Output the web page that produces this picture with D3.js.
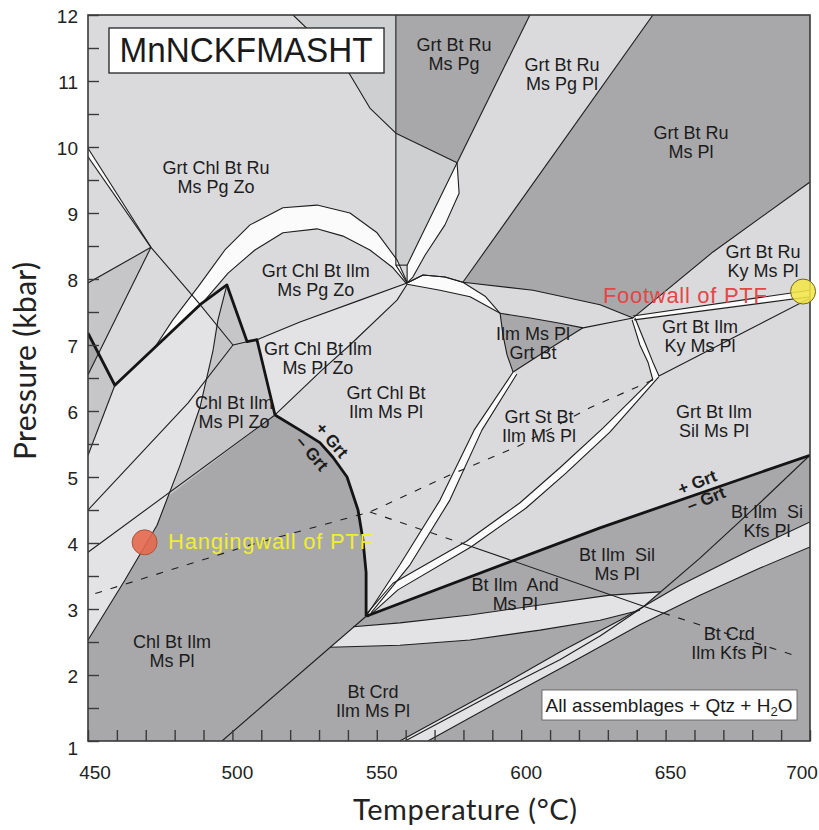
<!DOCTYPE html>
<html>
<head>
<meta charset="utf-8">
<script src="https://cdn.jsdelivr.net/npm/d3@7"></script>
<style>
  body { margin: 0; background: #fff; }
  svg { display: block; }
</style>
</head>
<body>
<div id="chart"></div>
<script>
// ---- axis values ----
const tempTicks = [450, 500, 550, 600, 650, 700];
const presTicks = [1, 2, 3, 4, 5, 6, 7, 8, 9, 10, 11, 12];

// ---- field boundaries, [T (°C), P (kbar)] ----
const rimCurve = [[521.0, 12], [529.3, 11.65], [539.7, 11.17], [547.6, 10.59], [556.6, 10.21]];
const ruVertical = [[556.6, 12], [556.6, 8.21], [560.5, 7.94]];
const ruStub = [[556.6, 8.21], [560.5, 8.21]];
const ruDarkBase = [[556.6, 10.21], [577.8, 9.76]];
const ruDarkEdge = [[603.0, 12], [577.8, 9.76]];
const wedgeLeft = [[577.8, 9.76], [560.5, 8.21], [560.5, 7.94]];
const wedgeRight = [[577.8, 9.76], [578.5, 9.30], [573.6, 8.82], [566.7, 8.36], [562.5, 8.03], [560.5, 7.94]];
const pgPlEdge = [[645.6, 12], [579.8, 7.95]];
const darkBase = [[560.5, 7.94], [566.0, 8.06], [573.6, 8.03], [579.8, 7.95], [604.1, 7.83], [627.3, 7.61], [638.7, 7.41]];
const darkEdge = [[700, 9.47], [666.4, 8.41], [638.7, 7.41]];
const crescentTop = [[560.5, 7.94], [566.0, 8.06], [573.6, 8.03], [579.8, 7.95], [587.5, 7.74], [592.7, 7.48]];
const crescentBase = [[560.5, 7.92], [571.9, 7.83], [582.3, 7.73], [592.7, 7.48]];
const ilmTop = [[592.7, 7.48], [603.1, 7.41], [613.4, 7.33], [621.4, 7.26]];
const ilmRight = [[621.4, 7.26], [610.0, 6.95], [597.2, 6.59]];
const ilmLeft = [[597.2, 6.59], [595.1, 6.85], [593.7, 7.15], [592.7, 7.48]];
const ilmToNode = [[621.4, 7.26], [638.7, 7.41]];
const footUpper = [[638.7, 7.44], [700, 7.83]];
const footLower = [[639.1, 7.38], [700, 7.73]];
const kySliverL = [[638.4, 7.38], [641.1, 7.0], [643.9, 6.74], [645.6, 6.47]];
const kySliverR = [[639.4, 7.41], [643.2, 7.0], [645.6, 6.74], [647.7, 6.53]];
const kySil = [[647.7, 6.53], [700, 7.71]];
const kySilDash = [[645.6, 6.47], [623.8, 6.05], [599.6, 5.48], [575.3, 5.03], [547.6, 4.47], [506.1, 3.97], [450, 3.20]];
const andSilDash1 = [[547.6, 4.47], [581.2, 3.97]];
const andSil = [[581.2, 3.97], [649.1, 2.94]];
const andSilDash2 = [[649.1, 2.94], [696.5, 2.27]];

const thickLeft = [[450, 7.18], [459.3, 6.39], [488.8, 7.61], [498.1, 7.91], [505.1, 7.05], [508.5, 7.08], [514.75, 5.94]];
const grtCurve = [[514.75, 5.94], [523.4, 5.71], [530.3, 5.52], [534.8, 5.30], [539.7, 5.0], [543.5, 4.50], [545.2, 4.05], [546.3, 3.55], [546.3, 2.89]];
const grtLine = [[546.3, 2.89], [627.3, 4.23], [700, 5.33]];

const dblUpper = [[450, 9.98], [471.8, 8.48]];
const dblLower = [[450, 9.85], [471.8, 8.48]];
const nbDiag = [[471.8, 8.48], [488.1, 7.65], [500.2, 7.0], [505.1, 7.05]];
const nbLeft = [[450, 7.94], [471.8, 8.48]];
const nbDown = [[471.8, 8.48], [450, 6.55]];
const kinkDown = [[459.3, 6.39], [450, 5.33]];
const lineA = [[450, 4.5], [484.6, 6.12], [500.2, 7.0]];
const lineB = [[514.75, 5.94], [450, 3.86]];
const lineC = [[450, 2.53], [462.8, 3.44], [473.9, 4.27], [481.9, 5.18], [488.8, 6.06], [493.3, 6.92], [495.0, 7.38], [498.1, 7.91]];
const lineE = [[546.3, 2.89], [496.4, 1]];
const lineF = [[560.5, 7.94], [544.2, 7.68], [523.4, 7.35], [508.5, 7.08]];
const lineG = [[560.5, 7.92], [557.0, 7.68], [540.7, 7.0], [531.0, 6.62], [514.75, 5.94]];

const bandTop = [[560.5, 7.95], [557.0, 8.29], [550.1, 8.70], [540.7, 9.0], [529.3, 9.12], [517.5, 9.08], [506.1, 8.82], [497.4, 8.44], [488.1, 7.88], [479.4, 7.38], [473.2, 6.97]];
const bandBase = [[560.5, 7.92], [555.6, 8.17], [547.6, 8.44], [538.3, 8.65], [529.3, 8.76], [517.5, 8.70], [507.8, 8.44], [498.5, 8.09], [490.5, 7.68]];
const stBandL = [[597.2, 6.59], [583.7, 5.71], [571.9, 4.65], [558.0, 3.67], [546.6, 2.91]];
const stBandR = [[598.5, 6.56], [586.4, 5.71], [575.3, 4.65], [561.5, 3.67], [548.0, 2.94]];
const silBandL = [[645.3, 6.48], [628.3, 5.74], [613.4, 5.14], [599.6, 4.61], [581.2, 4.03], [555.6, 3.39], [546.3, 2.92]];
const silBandR = [[647.7, 6.52], [630.7, 5.68], [615.5, 5.06], [601.7, 4.53], [582.6, 3.94], [557.3, 3.29], [547.0, 2.88]];
const crdBandTop = [[541.8, 2.73], [558.0, 2.79], [582.3, 2.91], [606.5, 3.06], [630.7, 3.21], [648.1, 3.26]];
const crdBandBase = [[533.8, 2.42], [558.0, 2.45], [582.3, 2.53], [606.5, 2.68], [627.3, 2.83], [641.1, 2.98]];
const kfsBandTop = [[558.0, 1], [592.7, 1.83], [613.4, 2.35], [634.2, 2.83], [655.0, 3.36], [679.2, 3.89], [700, 4.32]];
const kfsBandBase = [[567.7, 1], [599.6, 1.77], [620.4, 2.26], [641.1, 2.76], [661.9, 3.21], [682.7, 3.62], [700, 3.94]];
const msOut = [[559.8, 1], [592.7, 1.77], [613.4, 2.23], [627.3, 2.59], [642.2, 3.03], [661.9, 3.77], [682.7, 4.61], [700, 5.33]];

// ---- extra field outlines ----
const fieldLeftM = [[450, 7.94], [471.8, 8.48], [450, 6.55]];
const darkSliver = [[450, 7.18], [453.7, 6.87], [450, 6.55]];
const leftLowM = [[450, 6.55], [453.7, 6.87], [459.3, 6.39], [450, 5.33]];
const leftVL = [[450, 5.33], [459.3, 6.39], [488.1, 7.65], [494.0, 7.35], [493.3, 6.92], [488.8, 6.06], [481.9, 5.18], [473.9, 4.27], [462.8, 3.44], [450, 2.53]];
const chlZoField = [[477.5, 4.70], [481.9, 5.18], [488.8, 6.06], [493.3, 6.92], [495.0, 7.38], [498.1, 7.91], [505.1, 7.05], [508.5, 7.08], [514.75, 5.94]];
const wedgeMid = [[556.6, 10.21], [577.8, 9.76], [560.5, 8.21], [556.6, 8.21]];

// ---- labels ----
const fieldLabels = [
  [494.3, 9.55, ["Grt Chl Bt Ru", "Ms Pg Zo"]],
  [528.9, 7.98, ["Grt Chl Bt Ilm", "Ms Pg Zo"]],
  [529.6, 6.81, ["Grt Chl Bt Ilm", "Ms Pl Zo"]],
  [500.6, 5.98, ["Chl Bt Ilm", "Ms Pl Zo"]],
  [553.2, 6.14, ["Grt Chl Bt", "Ilm Ms Pl"]],
  [604.1, 7.03, ["Ilm Ms Pl", "Grt Bt"]],
  [606.2, 5.77, ["Grt St Bt", "Ilm Ms Pl"]],
  [576.7, 11.41, ["Grt Bt Ru", "Ms Pg"]],
  [614.1, 11.11, ["Grt Bt Ru", "Ms Pg Pl"]],
  [658.8, 10.07, ["Grt Bt Ru", "Ms Pl"]],
  [683.7, 8.27, ["Grt Bt Ru", "Ky Ms Pl"]],
  [661.9, 7.14, ["Grt Bt Ilm", "Ky Ms Pl"]],
  [666.8, 5.85, ["Grt Bt Ilm", "Sil Ms Pl"]],
  [633.2, 3.68, ["Bt Ilm  Sil", "Ms Pl"]],
  [597.9, 3.23, ["Bt Ilm  And", "Ms Pl"]],
  [685.1, 4.33, ["Bt Ilm  Si", "Kfs Pl"]],
  [672.0, 2.49, ["Bt Crd", "Ilm Kfs Pl"]],
  [479.1, 2.36, ["Chl Bt Ilm", "Ms Pl"]],
  [548.7, 1.61, ["Bt Crd", "Ilm Ms Pl"]]
];
const grtLabels = [
  [534.5, 5.56, "+ Grt", 50],
  [527.6, 5.36, "\u2013 Grt", 50],
  [660.9, 4.92, "+ Grt", -22],
  [664.0, 4.67, "\u2013 Grt", -22]
];
const footwallSite = [697.6, 7.81];
const hangingwallSite = [469.6, 4.01];

// ---- colours ----
const W = "#fbfbfb", VL = "#e3e3e5", L = "#dadadc", M2 = "#cecfd1", M = "#c6c6c8", D = "#a8a8aa";

const width = 819, height = 830;
const x = d3.scaleLinear().domain([450, 700]).range([88, 810]);
const y = d3.scaleLinear().domain([1, 12]).range([741, 15]);

const svg = d3.select("#chart").append("svg")
  .attr("width", width).attr("height", height);

svg.append("clipPath").attr("id", "plot-clip")
  .append("rect")
  .attr("x", x(450)).attr("y", y(12))
  .attr("width", x(700) - x(450)).attr("height", y(1) - y(12));

const line = d3.line().x(d => x(d[0])).y(d => y(d[1]));
const rev = a => a.slice().reverse();

const plot = svg.append("g").attr("clip-path", "url(#plot-clip)");

plot.append("rect")
  .attr("x", x(450)).attr("y", y(12))
  .attr("width", x(700) - x(450)).attr("height", y(1) - y(12))
  .attr("fill", L);

const fields = [
  [rimCurve.concat([[556.6, 12]]), M2],
  [[[556.6, 12], [603.0, 12], [577.8, 9.76], [556.6, 10.21]], D],
  [wedgeMid, M2],
  [wedgeRight.concat([[560.5, 8.21]]), W],
  [[[645.6, 12], [700, 12]].concat(darkEdge, rev(darkBase).slice(1, 4)), D],
  [fieldLeftM, M],
  [darkSliver, D],
  [leftLowM, M],
  [leftVL, VL],
  [chlZoField, M],
  [[[450, 1]].concat(lineC.slice(0, 3), [[477.5, 4.70]], grtCurve, grtLine.slice(1), [[700, 1]]), D],
  [crdBandTop.concat(rev(crdBandBase)), VL],
  [kfsBandTop.concat(rev(kfsBandBase)), VL],
  [lineF.concat(rev(lineG)), VL],
  [bandTop.concat([[488.8, 7.61]], rev(bandBase)), W],
  [dblUpper.concat(rev(dblLower)), W],
  [crescentTop.concat(rev(crescentBase)), W],
  [ilmTop.concat(ilmRight.slice(1), ilmLeft.slice(1)), D],
  [footUpper.concat(rev(footLower)), W],
  [kySliverL.concat(rev(kySliverR)), W],
  [silBandL.concat(rev(silBandR)), W],
  [stBandL.concat(rev(stBandR)), W]
];

plot.selectAll("path.field")
  .data(fields)
  .join("path")
  .attr("class", "field")
  .attr("d", d => line(d[0]) + "Z")
  .attr("fill", d => d[1])
  .attr("stroke", "none");

const thin = [rimCurve, ruVertical, ruStub, ruDarkBase, ruDarkEdge, wedgeLeft, wedgeRight, pgPlEdge,
  darkBase, darkEdge, crescentTop, crescentBase, ilmTop, ilmRight, ilmLeft, ilmToNode,
  footUpper, footLower, kySliverL, kySliverR, kySil, andSil,
  dblUpper, dblLower, nbDiag, nbLeft, nbDown, kinkDown, lineA, lineB, lineC, lineE, lineF, lineG,
  bandTop, bandBase, stBandL, stBandR, silBandL, silBandR,
  crdBandTop, crdBandBase, kfsBandTop, kfsBandBase, msOut];

plot.selectAll("path.thin")
  .data(thin)
  .join("path")
  .attr("class", "thin")
  .attr("d", line)
  .attr("fill", "none")
  .attr("stroke", "#1e1e1e")
  .attr("stroke-width", 1.1)
  .attr("stroke-linejoin", "round");

plot.selectAll("path.dash")
  .data([kySilDash, andSilDash1, andSilDash2])
  .join("path")
  .attr("class", "dash")
  .attr("d", line)
  .attr("fill", "none")
  .attr("stroke", "#1e1e1e")
  .attr("stroke-width", 1.1)
  .attr("stroke-dasharray", "7,9");

plot.selectAll("path.thick")
  .data([thickLeft, grtCurve, grtLine])
  .join("path")
  .attr("class", "thick")
  .attr("d", line)
  .attr("fill", "none")
  .attr("stroke", "#141414")
  .attr("stroke-width", 2.8)
  .attr("stroke-linejoin", "round");

// frame
svg.append("rect")
  .attr("x", x(450)).attr("y", y(12))
  .attr("width", x(700) - x(450)).attr("height", y(1) - y(12))
  .attr("fill", "none").attr("stroke", "#3a3a3a").attr("stroke-width", 1.6);

// inward ticks
const xAxis = svg.append("g")
  .attr("transform", `translate(0,${y(1)})`)
  .call(d3.axisBottom(x).tickValues(d3.range(450, 701, 10)).tickSize(-11).tickFormat(""));
const yAxis = svg.append("g")
  .attr("transform", `translate(${x(450)},0)`)
  .call(d3.axisLeft(y).tickValues(d3.range(1, 12.01, 0.5)).tickSize(-11).tickFormat(""));
[xAxis, yAxis].forEach(a => {
  a.select(".domain").remove();
  a.selectAll("line").attr("stroke", "#3a3a3a").attr("stroke-width", 1.4);
});

// tick labels
const tickFont = "'Liberation Sans', Arial, sans-serif";
svg.append("g").selectAll("text")
  .data(presTicks)
  .join("text")
  .attr("x", 78)
  .attr("y", d => y(d) + (d === 1 ? 7 : 1))
  .attr("dy", "0.36em")
  .attr("text-anchor", "end")
  .attr("font-family", tickFont).attr("font-size", "19px").attr("fill", "#222")
  .text(d => d);

svg.append("g").selectAll("text")
  .data(tempTicks)
  .join("text")
  .attr("x", d => x(d) + (d === 450 ? 7 : d === 700 ? -8 : 5))
  .attr("y", 779)
  .attr("text-anchor", "middle")
  .attr("font-family", tickFont).attr("font-size", "19px").attr("fill", "#222")
  .text(d => d);

// axis titles
svg.append("text")
  .attr("x", 465).attr("y", 820)
  .attr("text-anchor", "middle")
  .attr("font-family", "Lato, 'Open Sans', sans-serif").attr("font-size", "29px").attr("fill", "#222")
  .attr("textLength", 224)
  .text("Temperature (\u00B0C)");

svg.append("text")
  .attr("transform", "translate(36,361) rotate(-90)")
  .attr("text-anchor", "middle")
  .attr("font-family", "Lato, 'Open Sans', sans-serif").attr("font-size", "30px").attr("fill", "#222")
  .attr("textLength", 198)
  .text("Pressure (kbar)");

// field labels
const labelG = svg.append("g")
  .attr("font-family", tickFont).attr("font-size", "18px").attr("fill", "#1c1c1c")
  .attr("text-anchor", "middle");
fieldLabels.forEach(([t, p, rows]) => {
  const txt = labelG.append("text");
  rows.forEach((s, i) => {
    txt.append("tspan")
      .attr("x", x(t))
      .attr("y", y(p) + (i - (rows.length - 1) / 2) * 19 + 6.5)
      .style("white-space", "pre")
      .text(s);
  });
});

grtLabels.forEach(([t, p, s, a]) => {
  svg.append("text")
    .attr("transform", `translate(${x(t)},${y(p)}) rotate(${a})`)
    .attr("text-anchor", "middle").attr("dy", "0.35em")
    .attr("font-family", tickFont).attr("font-size", "17px").attr("font-weight", "bold")
    .attr("fill", "#1c1c1c")
    .text(s);
});

// sample sites
svg.append("circle")
  .attr("cx", x(hangingwallSite[0])).attr("cy", y(hangingwallSite[1])).attr("r", 12.5)
  .attr("fill", "#e4694e").attr("fill-opacity", 0.9)
  .attr("stroke", "#a8563c").attr("stroke-width", 1);
svg.append("circle")
  .attr("cx", x(footwallSite[0])).attr("cy", y(footwallSite[1])).attr("r", 12.5)
  .attr("fill", "#f3e648").attr("fill-opacity", 0.88)
  .attr("stroke", "#6e6420").attr("stroke-width", 1);

svg.append("text")
  .attr("x", x(656.7)).attr("y", y(7.76)).attr("dy", "0.36em")
  .attr("text-anchor", "middle")
  .attr("font-family", tickFont).attr("font-size", "22px").attr("fill", "#e64545")
  .attr("textLength", 164)
  .text("Footwall of PTF");
svg.append("text")
  .attr("x", x(513.2)).attr("y", y(4.03)).attr("dy", "0.36em")
  .attr("text-anchor", "middle")
  .attr("font-family", tickFont).attr("font-size", "22px").attr("fill", "#f0ee2e")
  .attr("textLength", 205)
  .text("Hangingwall of PTF");

// system name box
svg.append("rect")
  .attr("x", 109).attr("y", 28).attr("width", 275).attr("height", 45)
  .attr("fill", "#fff").attr("stroke", "#222").attr("stroke-width", 1.3);
svg.append("text")
  .attr("x", 246).attr("y", 62)
  .attr("text-anchor", "middle")
  .attr("font-family", tickFont).attr("font-size", "35px").attr("fill", "#1a1a1a")
  .attr("textLength", 253).attr("lengthAdjust", "spacingAndGlyphs")
  .text("MnNCKFMASHT");

// assemblage note box
svg.append("rect")
  .attr("x", 542).attr("y", 690).attr("width", 255).attr("height", 30)
  .attr("fill", "#fff").attr("stroke", "#555").attr("stroke-width", 0.8);
const note = svg.append("text")
  .attr("x", 669).attr("y", 712)
  .attr("text-anchor", "middle")
  .attr("font-family", tickFont).attr("font-size", "19px").attr("fill", "#1a1a1a");
note.append("tspan").text("All assemblages + Qtz + H");
note.append("tspan").attr("font-size", "13px").attr("dy", 4).text("2");
note.append("tspan").attr("dy", -4).text("O");
</script>
</body>
</html>
